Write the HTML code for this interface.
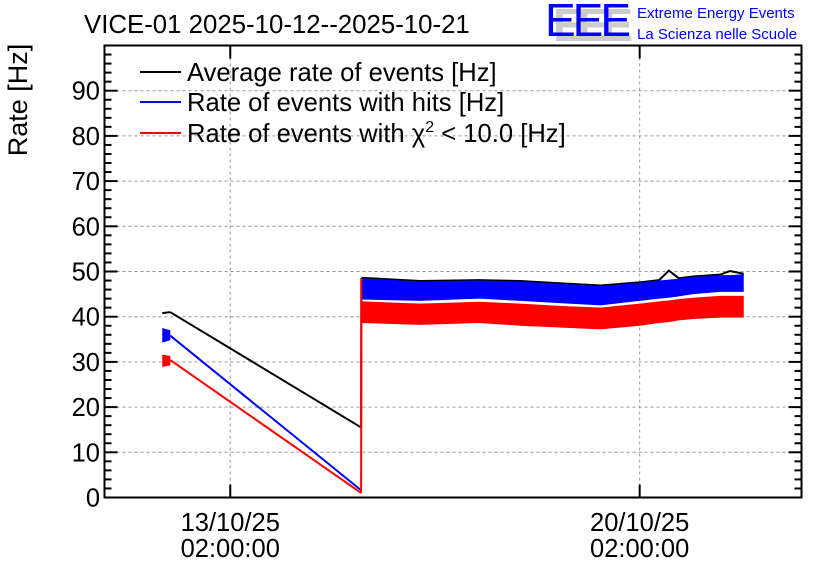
<!DOCTYPE html>
<html><head><meta charset="utf-8"><style>
body{margin:0;background:#fff}
svg{font-family:"Liberation Sans",sans-serif}
</style></head><body>
<svg id="chart" width="836" height="572" viewBox="0 0 836 572">
<text x="84" y="33" font-size="25.8">VICE-01 2025-10-12--2025-10-21</text>
<g>
<text x="553" y="41" font-size="46" fill="#ccc" font-weight="bold" textLength="80">EEE</text>
<text x="545" y="36" font-size="46" fill="#0000ff" textLength="86">EEE</text>
<text x="637" y="18" font-size="15" fill="#0000ff">Extreme Energy Events</text>
<text x="637" y="39" font-size="15" fill="#0000ff">La Scienza nelle Scuole</text>
</g>
<g id="grid"></g>
<g id="series"></g>
<rect x="104.5" y="45.5" width="697" height="452" fill="none" stroke="#000" stroke-width="2"/>
<g id="axes"></g>
<text transform="translate(27,100) rotate(-90)" text-anchor="middle" font-size="27">Rate [Hz]</text>
<g font-size="25.6">
<line x1="140" x2="181" y1="72" y2="72" stroke="#000" stroke-width="2"/>
<text x="187" y="81">Average rate of events [Hz]</text>
<line x1="140" x2="181" y1="102" y2="102" stroke="#0000ff" stroke-width="2"/>
<text x="187" y="111">Rate of events with hits [Hz]</text>
<line x1="140" x2="181" y1="133" y2="133" stroke="#ff0000" stroke-width="2"/>
<text x="187" y="142">Rate of events with χ<tspan font-size="16" dy="-10">2</tspan><tspan dy="10"> &lt; 10.0 [Hz]</tspan></text>
</g>
</svg>
<script>
// hours relative to 13/10/25 02:00:00
const xTicks=[0,168];
const xTickLabels=[["13/10/25","02:00:00"],["20/10/25","02:00:00"]];
const yTicks=[0,10,20,30,40,50,60,70,80,90];
// initial noisy cluster
const startHours=[-27.9,-24.6];
const startBlueLo=[34.3,34.8], startBlueHi=[37.5,37.0];
const startRedLo=[28.9,29.2], startRedHi=[31.6,31.3];
const startBlack=[40.8,41.0];
// linear drop segment
const dropHours=[-24.6,53.7];
const dropBlack=[41.0,15.5];
const dropBlue=[35.8,1.6];
const dropRed=[30.4,1.0];
// noisy plateau
const plateauHours=[53.8,78,102,119,135,152,168,176,180,184,190,201,205,210.7];
const blueLo=[43.8,43.5,44.0,43.5,43.0,42.5,43.5,44.0,44.2,44.5,45.0,45.5,45.5,45.5];
const blueHi=[48.5,47.8,48.0,47.8,47.3,46.8,47.5,48.0,48.2,48.4,48.8,49.2,49.2,49.4];
const redLo=[38.6,38.2,38.6,38.0,37.6,37.2,38.0,38.6,38.8,39.2,39.5,39.8,39.8,39.8];
const redHi=[43.4,42.9,43.3,42.9,42.4,42.0,42.9,43.4,43.6,43.9,44.2,44.6,44.6,44.6];
const blackTop=[48.6,47.9,48.1,47.9,47.4,46.9,47.6,48.1,50.2,48.5,48.9,49.3,50.1,49.5];

const X0=104.5,X1=801.5,Y0=497.5,Y1=45.5,HMIN=-51.6,HMAX=234.4,VMAX=100;
const xs=h=>X0+(h-HMIN)/(HMAX-HMIN)*(X1-X0);
const ys=v=>Y0-v/VMAX*(Y0-Y1);
const NS="http://www.w3.org/2000/svg";
function mk(tag,attrs,parent){const e=document.createElementNS(NS,tag);for(const k in attrs)e.setAttribute(k,attrs[k]);parent.appendChild(e);return e;}
const grid=document.getElementById('grid'),axes=document.getElementById('axes'),ser=document.getElementById('series');
yTicks.forEach(v=>{
 if(v>0){const g=mk('line',{x1:X0,x2:X1,y1:ys(v),y2:ys(v),stroke:'#999','stroke-dasharray':'3,3'},grid);
 
 }
 const t=mk('text',{x:100,y:ys(v)+9,'text-anchor':'end','font-size':'25.5'},axes);t.textContent=v;
 
 
});
for(let v=0;v<=100;v+=2){const len=v%10===0?13:7;
 mk('line',{x1:X0,x2:X0+len,y1:ys(v),y2:ys(v),stroke:'#000','stroke-width':2},axes);
 mk('line',{x1:X1,x2:X1-len,y1:ys(v),y2:ys(v),stroke:'#000','stroke-width':2},axes);}
xTicks.forEach((h,i)=>{const x=xs(h);
 const g=mk('line',{x1:x,x2:x,y1:Y1,y2:Y0,stroke:'#999','stroke-dasharray':'3,3'},grid);
 
 
 mk('line',{x1:x,x2:x,y1:Y0,y2:Y0-13,stroke:'#000','stroke-width':2},axes);
 mk('line',{x1:x,x2:x,y1:Y1,y2:Y1+13,stroke:'#000','stroke-width':2},axes);
 xTickLabels[i].forEach((s,j)=>{const t=mk('text',{x:x,y:531+j*26,'text-anchor':'middle','font-size':'25.5'},axes);t.textContent=s;
 
 });
});
function band(hs,lo,hi,col,name){
 let pts=hs.map((h,i)=>xs(h)+','+ys(hi[i]));
 for(let i=hs.length-1;i>=0;i--)pts.push(xs(hs[i])+','+ys(lo[i]));
 const p=mk('polygon',{points:pts.join(' '),fill:col},ser);
 
 }
function line(hs,vs,col,name){
 const p=mk('polyline',{points:hs.map((h,i)=>xs(h)+','+ys(vs[i])).join(' '),fill:'none',stroke:col,'stroke-width':2},ser);
 
 }
// black
line(startHours,startBlack,'#000','average-start');
line(dropHours,dropBlack,'#000','average-drop');
line([dropHours[1],plateauHours[0]],[dropBlack[1],blackTop[0]],'#000','average-jump');
line(plateauHours,blackTop,'#000','average-plateau');
// blue
band(startHours,startBlueLo,startBlueHi,'#0000ff','hits-start-band');
line(dropHours,dropBlue,'#0000ff','hits-drop');
band(plateauHours,blueLo,blueHi,'#0000ff','hits-plateau-band');
// red
band(startHours,startRedLo,startRedHi,'#ff0000','chi2-start-band');
line(dropHours,dropRed,'#ff0000','chi2-drop');
line([dropHours[1],plateauHours[0]],[dropRed[1],blueHi[0]],'#ff0000','chi2-jump');
band(plateauHours,redLo,redHi,'#ff0000','chi2-plateau-band');
</script>
</body></html>
